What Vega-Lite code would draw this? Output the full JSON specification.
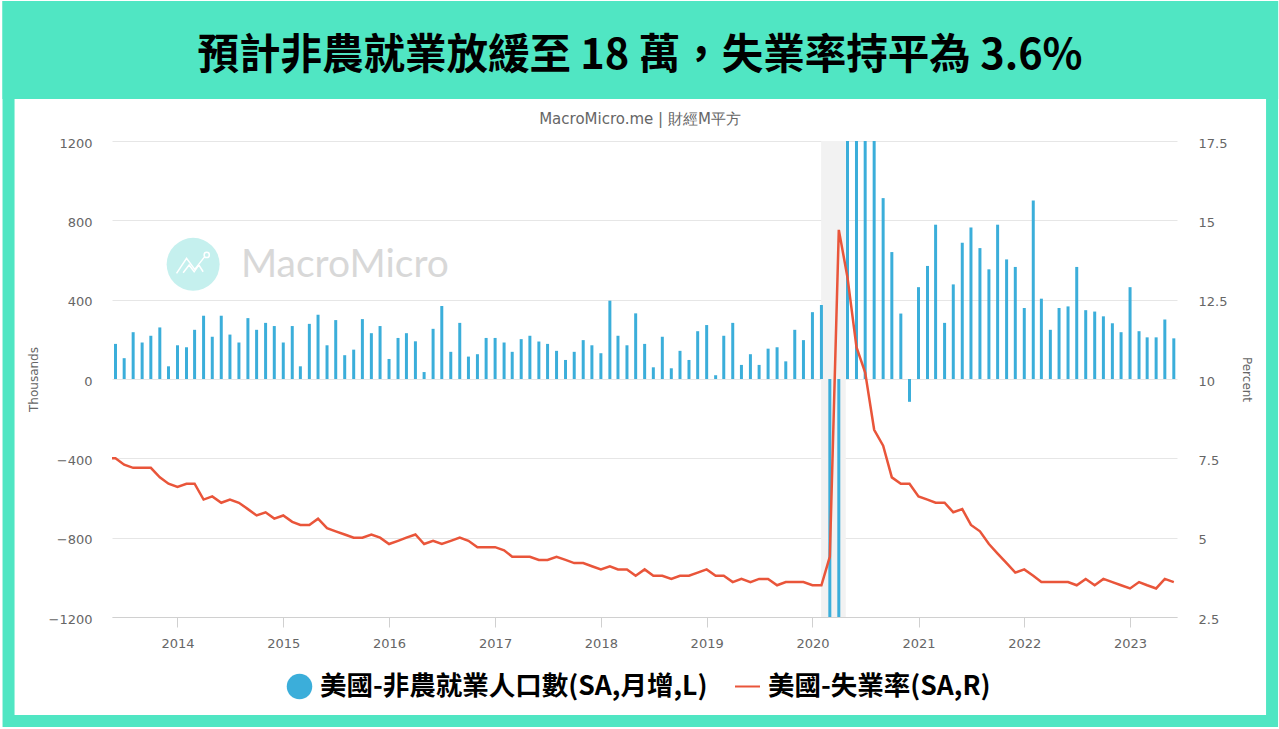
{
  "$schema": "https://vega.github.io/schema/vega-lite/v6.json",
  "autosize": "none",
  "width": 1065,
  "height": 476,
  "padding": {"left": 112, "top": 141, "right": 102, "bottom": 112},
  "background": "#ffffff",
  "datasets": {
    "monthly": [
      {"date": "2013-05-01", "jobs": null, "rate": 7.5},
      {"date": "2013-06-01", "jobs": 177, "rate": 7.5},
      {"date": "2013-07-01", "jobs": 105, "rate": 7.3},
      {"date": "2013-08-01", "jobs": 236, "rate": 7.2},
      {"date": "2013-09-01", "jobs": 184, "rate": 7.2},
      {"date": "2013-10-01", "jobs": 218, "rate": 7.2},
      {"date": "2013-11-01", "jobs": 260, "rate": 6.9},
      {"date": "2013-12-01", "jobs": 64, "rate": 6.7},
      {"date": "2014-01-01", "jobs": 170, "rate": 6.6},
      {"date": "2014-02-01", "jobs": 160, "rate": 6.7},
      {"date": "2014-03-01", "jobs": 248, "rate": 6.7},
      {"date": "2014-04-01", "jobs": 319, "rate": 6.2},
      {"date": "2014-05-01", "jobs": 213, "rate": 6.3},
      {"date": "2014-06-01", "jobs": 319, "rate": 6.1},
      {"date": "2014-07-01", "jobs": 224, "rate": 6.2},
      {"date": "2014-08-01", "jobs": 184, "rate": 6.1},
      {"date": "2014-09-01", "jobs": 307, "rate": 5.9},
      {"date": "2014-10-01", "jobs": 248, "rate": 5.7},
      {"date": "2014-11-01", "jobs": 283, "rate": 5.8},
      {"date": "2014-12-01", "jobs": 267, "rate": 5.6},
      {"date": "2015-01-01", "jobs": 184, "rate": 5.7},
      {"date": "2015-02-01", "jobs": 267, "rate": 5.5},
      {"date": "2015-03-01", "jobs": 64, "rate": 5.4},
      {"date": "2015-04-01", "jobs": 278, "rate": 5.4},
      {"date": "2015-05-01", "jobs": 324, "rate": 5.6},
      {"date": "2015-06-01", "jobs": 170, "rate": 5.3},
      {"date": "2015-07-01", "jobs": 297, "rate": 5.2},
      {"date": "2015-08-01", "jobs": 120, "rate": 5.1},
      {"date": "2015-09-01", "jobs": 148, "rate": 5.0},
      {"date": "2015-10-01", "jobs": 302, "rate": 5.0},
      {"date": "2015-11-01", "jobs": 231, "rate": 5.1},
      {"date": "2015-12-01", "jobs": 267, "rate": 5.0},
      {"date": "2016-01-01", "jobs": 101, "rate": 4.8},
      {"date": "2016-02-01", "jobs": 207, "rate": 4.9},
      {"date": "2016-03-01", "jobs": 231, "rate": 5.0},
      {"date": "2016-04-01", "jobs": 190, "rate": 5.1},
      {"date": "2016-05-01", "jobs": 35, "rate": 4.8},
      {"date": "2016-06-01", "jobs": 253, "rate": 4.9},
      {"date": "2016-07-01", "jobs": 368, "rate": 4.8},
      {"date": "2016-08-01", "jobs": 137, "rate": 4.9},
      {"date": "2016-09-01", "jobs": 283, "rate": 5.0},
      {"date": "2016-10-01", "jobs": 113, "rate": 4.9},
      {"date": "2016-11-01", "jobs": 125, "rate": 4.7},
      {"date": "2016-12-01", "jobs": 207, "rate": 4.7},
      {"date": "2017-01-01", "jobs": 207, "rate": 4.7},
      {"date": "2017-02-01", "jobs": 184, "rate": 4.6},
      {"date": "2017-03-01", "jobs": 137, "rate": 4.4},
      {"date": "2017-04-01", "jobs": 201, "rate": 4.4},
      {"date": "2017-05-01", "jobs": 218, "rate": 4.4},
      {"date": "2017-06-01", "jobs": 189, "rate": 4.3},
      {"date": "2017-07-01", "jobs": 177, "rate": 4.3},
      {"date": "2017-08-01", "jobs": 142, "rate": 4.4},
      {"date": "2017-09-01", "jobs": 96, "rate": 4.3},
      {"date": "2017-10-01", "jobs": 137, "rate": 4.2},
      {"date": "2017-11-01", "jobs": 196, "rate": 4.2},
      {"date": "2017-12-01", "jobs": 170, "rate": 4.1},
      {"date": "2018-01-01", "jobs": 130, "rate": 4.0},
      {"date": "2018-02-01", "jobs": 395, "rate": 4.1},
      {"date": "2018-03-01", "jobs": 218, "rate": 4.0},
      {"date": "2018-04-01", "jobs": 170, "rate": 4.0},
      {"date": "2018-05-01", "jobs": 331, "rate": 3.8},
      {"date": "2018-06-01", "jobs": 177, "rate": 4.0},
      {"date": "2018-07-01", "jobs": 59, "rate": 3.8},
      {"date": "2018-08-01", "jobs": 213, "rate": 3.8},
      {"date": "2018-09-01", "jobs": 54, "rate": 3.7},
      {"date": "2018-10-01", "jobs": 142, "rate": 3.8},
      {"date": "2018-11-01", "jobs": 96, "rate": 3.8},
      {"date": "2018-12-01", "jobs": 241, "rate": 3.9},
      {"date": "2019-01-01", "jobs": 272, "rate": 4.0},
      {"date": "2019-02-01", "jobs": 19, "rate": 3.8},
      {"date": "2019-03-01", "jobs": 218, "rate": 3.8},
      {"date": "2019-04-01", "jobs": 283, "rate": 3.6},
      {"date": "2019-05-01", "jobs": 71, "rate": 3.7},
      {"date": "2019-06-01", "jobs": 125, "rate": 3.6},
      {"date": "2019-07-01", "jobs": 71, "rate": 3.7},
      {"date": "2019-08-01", "jobs": 153, "rate": 3.7},
      {"date": "2019-09-01", "jobs": 160, "rate": 3.5},
      {"date": "2019-10-01", "jobs": 89, "rate": 3.6},
      {"date": "2019-11-01", "jobs": 248, "rate": 3.6},
      {"date": "2019-12-01", "jobs": 196, "rate": 3.6},
      {"date": "2020-01-01", "jobs": 337, "rate": 3.5},
      {"date": "2020-02-01", "jobs": 373, "rate": 3.5},
      {"date": "2020-03-01", "jobs": -1373, "rate": 4.4},
      {"date": "2020-04-01", "jobs": -20000, "rate": 14.7},
      {"date": "2020-05-01", "jobs": 2720, "rate": 13.2},
      {"date": "2020-06-01", "jobs": 4780, "rate": 11.0},
      {"date": "2020-07-01", "jobs": 1730, "rate": 10.2},
      {"date": "2020-08-01", "jobs": 1580, "rate": 8.4},
      {"date": "2020-09-01", "jobs": 912, "rate": 7.9},
      {"date": "2020-10-01", "jobs": 640, "rate": 6.9},
      {"date": "2020-11-01", "jobs": 330, "rate": 6.7},
      {"date": "2020-12-01", "jobs": -115, "rate": 6.7},
      {"date": "2021-01-01", "jobs": 463, "rate": 6.3},
      {"date": "2021-02-01", "jobs": 570, "rate": 6.2},
      {"date": "2021-03-01", "jobs": 778, "rate": 6.1},
      {"date": "2021-04-01", "jobs": 283, "rate": 6.1},
      {"date": "2021-05-01", "jobs": 477, "rate": 5.8},
      {"date": "2021-06-01", "jobs": 687, "rate": 5.9},
      {"date": "2021-07-01", "jobs": 764, "rate": 5.4},
      {"date": "2021-08-01", "jobs": 660, "rate": 5.2},
      {"date": "2021-09-01", "jobs": 553, "rate": 4.8},
      {"date": "2021-10-01", "jobs": 778, "rate": 4.5},
      {"date": "2021-11-01", "jobs": 603, "rate": 4.2},
      {"date": "2021-12-01", "jobs": 565, "rate": 3.9},
      {"date": "2022-01-01", "jobs": 358, "rate": 4.0},
      {"date": "2022-02-01", "jobs": 900, "rate": 3.8},
      {"date": "2022-03-01", "jobs": 405, "rate": 3.6},
      {"date": "2022-04-01", "jobs": 248, "rate": 3.6},
      {"date": "2022-05-01", "jobs": 358, "rate": 3.6},
      {"date": "2022-06-01", "jobs": 366, "rate": 3.6},
      {"date": "2022-07-01", "jobs": 565, "rate": 3.5},
      {"date": "2022-08-01", "jobs": 347, "rate": 3.7},
      {"date": "2022-09-01", "jobs": 340, "rate": 3.5},
      {"date": "2022-10-01", "jobs": 316, "rate": 3.7},
      {"date": "2022-11-01", "jobs": 281, "rate": 3.6},
      {"date": "2022-12-01", "jobs": 236, "rate": 3.5},
      {"date": "2023-01-01", "jobs": 463, "rate": 3.4},
      {"date": "2023-02-01", "jobs": 241, "rate": 3.6},
      {"date": "2023-03-01", "jobs": 210, "rate": 3.5},
      {"date": "2023-04-01", "jobs": 210, "rate": 3.4},
      {"date": "2023-05-01", "jobs": 300, "rate": 3.7},
      {"date": "2023-06-01", "jobs": 205, "rate": 3.6}
    ]
  },
  "data": {"name": "monthly"},
  "layer": [
    {
      "data": {"values": [{"start": "2020-01-31", "end": "2020-04-25"}]},
      "mark": {"type": "rect", "color": "#f2f2f2"},
      "encoding": {
        "x": {"field": "start", "type": "temporal", "title": null,
          "scale": {"domain": ["2013-05-20", "2023-06-12"], "padding": 0},
          "axis": {
            "format": "%Y",
            "values": ["2014-01-01", "2015-01-01", "2016-01-01", "2017-01-01", "2018-01-01", "2019-01-01", "2020-01-01", "2021-01-01", "2022-01-01", "2023-01-01"],
            "grid": false,
            "domainColor": "#d0d0d0",
            "tickColor": "#d0d0d0",
            "tickSize": 10,
            "labelFont": "DejaVu Sans",
            "labelFontSize": 13,
            "labelColor": "#666666",
            "labelPadding": 10
          }
        },
        "x2": {"field": "end"}
      }
    },
    {
      "mark": {"type": "bar", "size": 3, "clip": true},
      "encoding": {
        "x": {"field": "date", "type": "temporal"},
        "y": {"field": "jobs", "type": "quantitative", "title": "Thousands",
          "scale": {"domain": [-1200, 1200]},
          "axis": {
            "values": [-1200, -800, -400, 0, 400, 800, 1200],
            "format": "d",
            "domain": false,
            "ticks": false,
            "gridColor": "#e6e6e6",
            "labelFont": "DejaVu Sans",
            "labelFontSize": 13,
            "labelColor": "#666666",
            "labelPadding": 20,
            "labelOffset": 2,
            "titleFont": "DejaVu Sans",
            "titleFontSize": 12,
            "titleFontWeight": "normal",
            "titleColor": "#666666",
            "titleX": -72
          }
        },
        "fill": {
          "datum": "美國-非農就業人口數(SA,月增,L)",
          "scale": {"range": ["#3baeda"]},
          "legend": {
            "orient": "none",
            "legendX": 174,
            "legendY": 532,
            "title": null,
            "symbolType": "circle",
            "symbolSize": 650,
            "labelFont": "Noto Sans CJK TC",
            "labelFontSize": 26.5,
            "labelFontWeight": "bold",
            "labelColor": "#000000",
            "labelLimit": 600,
            "labelOffset": 7
          }
        }
      }
    },
    {
      "mark": {"type": "line", "strokeWidth": 2.5, "clip": true},
      "encoding": {
        "x": {"field": "date", "type": "temporal"},
        "y": {"field": "rate", "type": "quantitative", "title": "Percent",
          "scale": {"domain": [2.5, 17.5]},
          "axis": {
            "orient": "right",
            "values": [2.5, 5, 7.5, 10, 12.5, 15, 17.5],
            "format": ".1~f",
            "grid": false,
            "domain": false,
            "ticks": false,
            "labelFont": "DejaVu Sans",
            "labelFontSize": 13,
            "labelColor": "#666666",
            "labelPadding": 21,
            "labelOffset": 2,
            "titleFont": "DejaVu Sans",
            "titleFontSize": 12,
            "titleFontWeight": "normal",
            "titleColor": "#666666",
            "titleAngle": 90,
            "titleX": 62
          }
        },
        "stroke": {
          "datum": "美國-失業率(SA,R)",
          "scale": {"range": ["#e9553a"]},
          "legend": {
            "orient": "none",
            "legendX": 622,
            "legendY": 532,
            "title": null,
            "symbolType": "stroke",
            "symbolSize": 625,
            "symbolStrokeWidth": 2,
            "labelFont": "Noto Sans CJK TC",
            "labelFontSize": 26.5,
            "labelFontWeight": "bold",
            "labelColor": "#000000",
            "labelLimit": 500,
            "labelOffset": 7
          }
        }
      }
    },
    {
      "data": {"values": [{"part": "logo"}]},
      "mark": {"type": "point", "filled": true, "size": 2809, "color": "#c5f0ee", "opacity": 1},
      "encoding": {
        "x": {"datum": {"year": 2014, "month": 2, "date": 24}, "type": "temporal"},
        "y": {"datum": 578, "type": "quantitative", "scale": {"domain": [-1200, 1200]}, "axis": null}
      }
    },
    {
      "data": {"values": [{"part": "logo glyph"}]},
      "mark": {
        "type": "point",
        "shape": "M-.83,.45L-.33,-.3L.08,.25L.55,-.35M-.5,.42L-.2,.03L.05,.37L.28,.03L.5,.37M.55,-.47a.13,.13 0 1,0 .26,0a.13,.13 0 1,0 -.26,0",
        "filled": false,
        "size": 1600,
        "stroke": "#ffffff",
        "strokeWidth": 1.5,
        "opacity": 1
      },
      "encoding": {
        "x": {"datum": {"year": 2014, "month": 2, "date": 24}, "type": "temporal"},
        "y": {"datum": 578, "type": "quantitative", "scale": {"domain": [-1200, 1200]}, "axis": null}
      }
    },
    {
      "data": {"values": [{"label": "MacroMicro"}]},
      "mark": {"type": "text", "align": "left", "baseline": "middle", "font": "Lato", "fontWeight": 400, "fontSize": 39, "color": "#d8d8d8"},
      "encoding": {
        "text": {"field": "label"},
        "x": {"datum": {"year": 2014, "month": 8, "date": 8}, "type": "temporal"},
        "y": {"datum": 575, "type": "quantitative", "scale": {"domain": [-1200, 1200]}, "axis": null}
      }
    },
    {
      "data": {"values": [{"part": "frame"}]},
      "mark": {"type": "rect", "fillOpacity": 0, "stroke": "#50e6c3", "strokeWidth": 12, "clip": false},
      "encoding": {
        "x": {"datum": {"year": 2012, "month": 5, "date": 28}, "type": "temporal"},
        "x2": {"datum": {"year": 2024, "month": 5, "date": 5}},
        "y": {"datum": 1876, "type": "quantitative", "scale": {"domain": [-1200, 1200]}, "axis": null},
        "y2": {"datum": -1724}
      }
    },
    {
      "data": {"values": [{"part": "header"}]},
      "mark": {"type": "rect", "fill": "#50e6c3", "clip": false},
      "encoding": {
        "x": {"datum": {"year": 2012, "month": 5, "date": 7}, "type": "temporal"},
        "x2": {"datum": {"year": 2024, "month": 5, "date": 26}},
        "y": {"datum": 1906, "type": "quantitative", "scale": {"domain": [-1200, 1200]}, "axis": null},
        "y2": {"datum": 1412}
      }
    },
    {
      "data": {"values": [{"label": "預計非農就業放緩至 18 萬，失業率持平為 3.6%"}]},
      "mark": {"type": "text", "align": "center", "baseline": "middle", "font": "Noto Sans CJK TC", "fontWeight": "bold", "fontSize": 41.5, "color": "#000000"},
      "encoding": {
        "text": {"field": "label"},
        "x": {"datum": {"year": 2018, "month": 5, "date": 16}, "type": "temporal"},
        "y": {"datum": 1624, "type": "quantitative", "scale": {"domain": [-1200, 1200]}, "axis": null}
      }
    },
    {
      "data": {"values": [{"label": "MacroMicro.me | 財經M平方"}]},
      "mark": {"type": "text", "align": "center", "baseline": "middle", "font": "DejaVu Sans", "fontSize": 15, "color": "#666666"},
      "encoding": {
        "text": {"field": "label"},
        "x": {"datum": {"year": 2018, "month": 5, "date": 16}, "type": "temporal"},
        "y": {"datum": 1311, "type": "quantitative", "scale": {"domain": [-1200, 1200]}, "axis": null}
      }
    }
  ],
  "resolve": {"scale": {"y": "independent", "fill": "independent", "stroke": "independent"}},
  "config": {"view": {"stroke": null}}
}
